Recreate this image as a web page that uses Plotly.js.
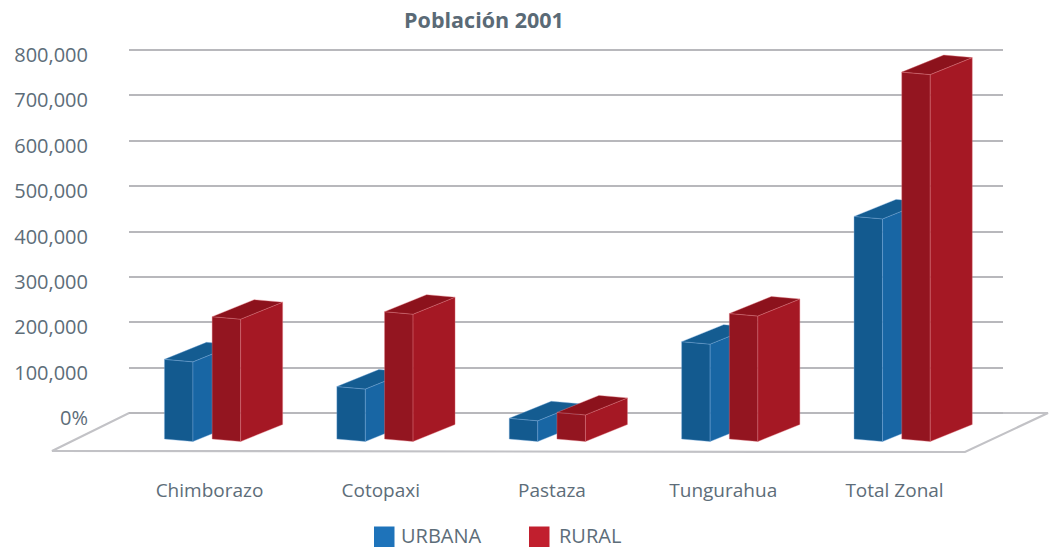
<!DOCTYPE html>
<html>
<head>
<meta charset="utf-8">
<script src="https://cdn.plot.ly/plotly-3.0.1.min.js"></script>
<style>
html,body{margin:0;padding:0;background:#ffffff;}
#chart{width:1059px;height:549px;}
</style>
</head>
<body>
<div id="chart"></div>
<script>
// ---------------- DATA ----------------
const categories = ['Chimborazo', 'Cotopaxi', 'Pastaza', 'Tungurahua', 'Total Zonal'];
const urbana = [153000, 93000, 23000, 192000, 468000];
const rural  = [247000, 258000, 36000, 254000, 786000];
const seriesNames = ['URBANA', 'RURAL'];
const tickValues = [0, 100000, 200000, 300000, 400000, 500000, 600000, 700000, 800000];
const tickLabels = ['0%', '100,000', '200,000', '300,000', '400,000', '500,000', '600,000', '700,000', '800,000'];
const chartTitle = 'Población 2001';

// ---------------- STYLE / GEOMETRY ----------------
const W = 1059, H = 549;
const textColor = '#5d6d79';
const fontFam = '"Open Sans", "Noto Sans", sans-serif';
const gridColor = '#b8b8bc';
const floorColor = '#c2c2c6';

const faceColors = [
  {front: '#135a8f', side: '#1866a4', top: '#145c91', legend: '#1e73ba', edge: 'rgba(120,170,220,0.55)'},
  {front: '#931520', side: '#a51824', top: '#8c121c', legend: '#c11f2e', edge: 'rgba(225,120,130,0.55)'}
];

// pixel geometry of the drawing
const pxPerUnit = 363 / 800000;       // vertical scale (px per value unit)
const gridZeroPx = 413;               // pixel row of value 0 on the back wall
const gridLeftPx = 129, gridRightPx = 1003;
const gridBottomPx = 470;             // bottom of the gridline subplot
const labelX0 = 209.5, labelStep = 171.25;
const barX0 = 202.55, barStep = 172.4; // centre of each category group, px
const barZeroPx = 430;                // front plane zero
const seriesOffsetPx = 23.85, barHalfPx = 14.25;
const depthDxPx = 42, depthDyPx = 17;
const slantPx = 1.25;
const botLeftPx = 439, botRightPx = 441.5;

// ---------------- BUILD FACES ----------------
function buildFaces(values, k) {
  const offU = (k === 0 ? -1 : 1) * seriesOffsetPx / barStep;
  const hwU = barHalfPx / barStep;
  const dxU = depthDxPx / barStep;
  const dyV = depthDyPx / pxPerUnit;
  const sl = slantPx / pxPerUnit;
  const botL = (barZeroPx - botLeftPx) / pxPerUnit;
  const botR = (barZeroPx - botRightPx) / pxPerUnit;
  const front = {x: [], y: []}, side = {x: [], y: []}, top = {x: [], y: []};
  values.forEach((v, i) => {
    const xc = i + offU, xL = xc - hwU, xR = xc + hwU;
    const tL = v + sl, tR = v - sl;
    front.x.push(xL, xR, xR, xL, xL, null);
    front.y.push(botL, botR, tR, tL, botL, null);
    side.x.push(xR, xR + dxU, xR + dxU, xR, xR, null);
    side.y.push(botR, botR + dyV, tR + dyV, tR, botR, null);
    top.x.push(xL, xR, xR + dxU, xL + dxU, xL, null);
    top.y.push(tL, tR, tR + dyV, tL + dyV, tL, null);
  });
  const c = faceColors[k];
  const mk = (f, col, part) => ({
    type: 'scatter', mode: 'lines', x: f.x, y: f.y, xaxis: 'x2', yaxis: 'y2',
    fill: 'toself', fillcolor: col, connectgaps: false,
    line: {color: c.edge, width: 0.7}, hoverinfo: 'skip', showlegend: false,
    name: seriesNames[k] + ' ' + part
  });
  return [mk(front, c.front, 'front'), mk(side, c.side, 'side'), mk(top, c.top, 'top')];
}

const traces = [
  // invisible trace to host the category axis / gridline subplot
  {type: 'scatter', mode: 'markers', x: categories, y: categories.map(() => null),
   xaxis: 'x', yaxis: 'y', showlegend: false, hoverinfo: 'skip'},
  ...buildFaces(urbana, 0),
  ...buildFaces(rural, 1)
];

// ---------------- LAYOUT ----------------
const pxX = p => p / W, pxY = p => 1 - p / H;
const floorPath = 'M' + pxX(129) + ',' + pxY(413) + ' L' + pxX(1048) + ',' + pxY(413) +
                  ' L' + pxX(965) + ',' + pxY(452) + ' L' + pxX(52) + ',' + pxY(451) + ' Z';

const gridH = gridBottomPx;
const layout = {
  width: W, height: H,
  margin: {l: 0, r: 0, t: 0, b: 0, pad: 0},
  paper_bgcolor: '#ffffff', plot_bgcolor: 'rgba(0,0,0,0)',
  showlegend: false,
  font: {family: fontFam, color: textColor},
  title: {
    text: chartTitle, x: 484 / W, xanchor: 'center', xref: 'paper',
    y: 1 - 20 / H, yanchor: 'middle', yref: 'container',
    font: {family: fontFam, size: 21.5, color: '#5a6a76', weight: 'bold'}
  },
  xaxis: {
    type: 'category', categoryorder: 'array', categoryarray: categories,
    domain: [gridLeftPx / W, gridRightPx / W], anchor: 'y',
    range: [(gridLeftPx - labelX0) / labelStep, (gridRightPx - labelX0) / labelStep],
    showgrid: false, zeroline: false, showline: false, ticks: '',
    ticklabelstandoff: 7,
    tickfont: {family: fontFam, size: 19, color: textColor}, fixedrange: true
  },
  yaxis: {
    domain: [1 - gridH / H, 1], anchor: 'x',
    range: [-(gridH - gridZeroPx) / pxPerUnit, gridZeroPx / pxPerUnit],
    tickmode: 'array', tickvals: tickValues, ticktext: tickLabels,
    showgrid: true, gridcolor: gridColor, gridwidth: 2,
    zeroline: false, showline: false, ticks: '',
    ticklabelstandoff: 40, ticklabelshift: 5,
    tickfont: {family: fontFam, size: 20, color: textColor}, fixedrange: true
  },
  xaxis2: {
    domain: [0, 1], anchor: 'y2', visible: false,
    range: [-barX0 / barStep, (W - barX0) / barStep], fixedrange: true
  },
  yaxis2: {
    domain: [0, 1], anchor: 'x2', visible: false,
    range: [-(H - barZeroPx) / pxPerUnit, barZeroPx / pxPerUnit], fixedrange: true
  },
  shapes: [
    {type: 'path', xref: 'paper', yref: 'paper', path: floorPath, layer: 'below',
     line: {color: floorColor, width: 2.2}, fillcolor: 'rgba(0,0,0,0)'},
    {type: 'rect', xref: 'paper', yref: 'paper', layer: 'above',
     x0: pxX(374), x1: pxX(394.5), y0: pxY(547), y1: pxY(526.5),
     fillcolor: faceColors[0].legend, line: {width: 0}},
    {type: 'rect', xref: 'paper', yref: 'paper', layer: 'above',
     x0: pxX(529), x1: pxX(549.5), y0: pxY(547), y1: pxY(526.5),
     fillcolor: faceColors[1].legend, line: {width: 0}}
  ],
  annotations: [
    {text: seriesNames[0], xref: 'paper', yref: 'paper', x: pxX(399.5), y: pxY(535.5),
     xanchor: 'left', yanchor: 'middle', showarrow: false, borderpad: 0,
     font: {family: fontFam, size: 20, color: textColor}},
    {text: seriesNames[1], xref: 'paper', yref: 'paper', x: pxX(557.5), y: pxY(535.5),
     xanchor: 'left', yanchor: 'middle', showarrow: false, borderpad: 0,
     font: {family: fontFam, size: 20, color: textColor}}
  ]
};

Plotly.newPlot('chart', traces, layout, {displayModeBar: false, staticPlot: true, responsive: false});
</script>
</body>
</html>
